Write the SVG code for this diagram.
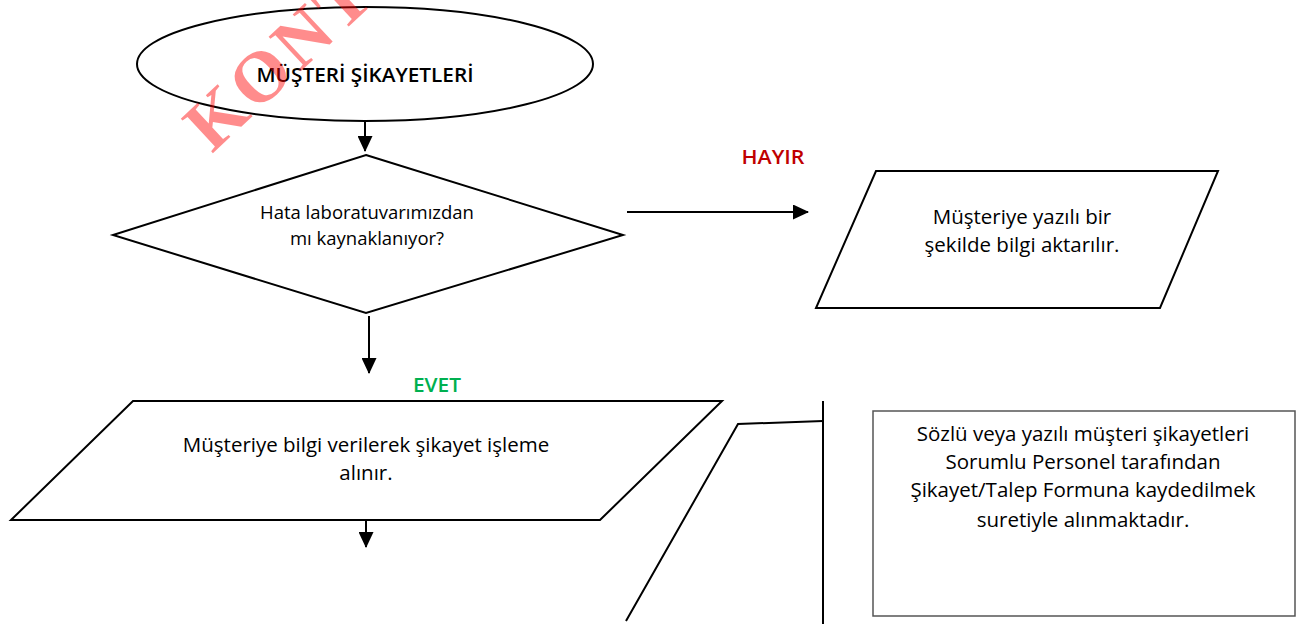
<svg xmlns="http://www.w3.org/2000/svg" width="1301" height="624" viewBox="0 0 1301 624">
<defs>
<marker id="ah" markerWidth="16" markerHeight="15" refX="15" refY="7.5" orient="auto" markerUnits="userSpaceOnUse" viewBox="0 0 16 15">
<path d="M0,0 L16,7.5 L0,15 Z" fill="#000"/>
</marker>
<style>
.shape{fill:#fff;stroke:#000;stroke-width:2}
.line{fill:none;stroke:#000;stroke-width:2}
.t{font-family:"Open Sans","Noto Sans",sans-serif;fill:#000;text-anchor:middle}
.wm{font-family:"Liberation Serif",serif;font-weight:bold;fill:#ff0000;fill-opacity:0.45}
</style>
</defs>
<rect width="1301" height="624" fill="#fff"/>
<g id="connectors">
<line class="line" x1="365" y1="117" x2="365" y2="151" marker-end="url(#ah)"/>
<line class="line" x1="627" y1="212" x2="808" y2="212" marker-end="url(#ah)"/>
<line class="line" x1="369" y1="316" x2="369" y2="373" marker-end="url(#ah)"/>
<line class="line" x1="366" y1="497" x2="366" y2="547" marker-end="url(#ah)"/>
<polyline class="line" points="626,621 738,424 823,421"/>
<line class="line" x1="823" y1="401" x2="823" y2="624"/>
</g>
<g id="start">
<ellipse class="shape" cx="365" cy="64" rx="228" ry="57"/>
<text class="t" x="365" y="82" font-size="20" font-weight="600" textLength="217" lengthAdjust="spacingAndGlyphs">MÜŞTERİ ŞİKAYETLERİ</text>
</g>
<g id="decision">
<polygon class="shape" points="366,155 623,235 366,313 113,235"/>
<text class="t" x="367" y="219" font-size="18.5">Hata laboratuvarımızdan</text>
<text class="t" x="367" y="245" font-size="18.5">mı kaynaklanıyor?</text>
</g>
<g id="hayir-label">
<text class="t" x="773" y="164" font-size="20" font-weight="600" style="fill:#c00000" textLength="63" lengthAdjust="spacingAndGlyphs">HAYIR</text>
</g>
<g id="evet-label">
<text class="t" x="437" y="392" font-size="20" font-weight="600" style="fill:#00b050" textLength="48" lengthAdjust="spacingAndGlyphs">EVET</text>
</g>
<g id="no-output">
<polygon class="shape" points="876,171 1218,171 1160,308 816,308"/>
<text class="t" x="1022" y="224" font-size="20.5">Müşteriye yazılı bir</text>
<text class="t" x="1022" y="252" font-size="20.5">şekilde bilgi aktarılır.</text>
</g>
<g id="yes-output">
<polygon class="shape" points="133,401 722,401 600,520 11,520"/>
<text class="t" x="366" y="452" font-size="20.5">Müşteriye bilgi verilerek şikayet işleme</text>
<text class="t" x="366" y="480" font-size="20.5">alınır.</text>
</g>
<g id="note">
<rect x="873" y="411" width="422" height="205" fill="#fff" stroke="#555" stroke-width="1.5"/>
<text class="t" x="1083" y="441" font-size="20.5">Sözlü veya yazılı müşteri şikayetleri</text>
<text class="t" x="1083" y="469" font-size="20.5">Sorumlu Personel tarafından</text>
<text class="t" x="1083" y="497" font-size="20.5">Şikayet/Talep Formuna kaydedilmek</text>
<text class="t" x="1083" y="527" font-size="20.5">suretiyle alınmaktadır.</text>
</g>
<g id="watermark">
<text class="wm" x="212" y="154" font-size="72" letter-spacing="4" transform="rotate(-43 212 154)">KONT</text>
</g>
</svg>
